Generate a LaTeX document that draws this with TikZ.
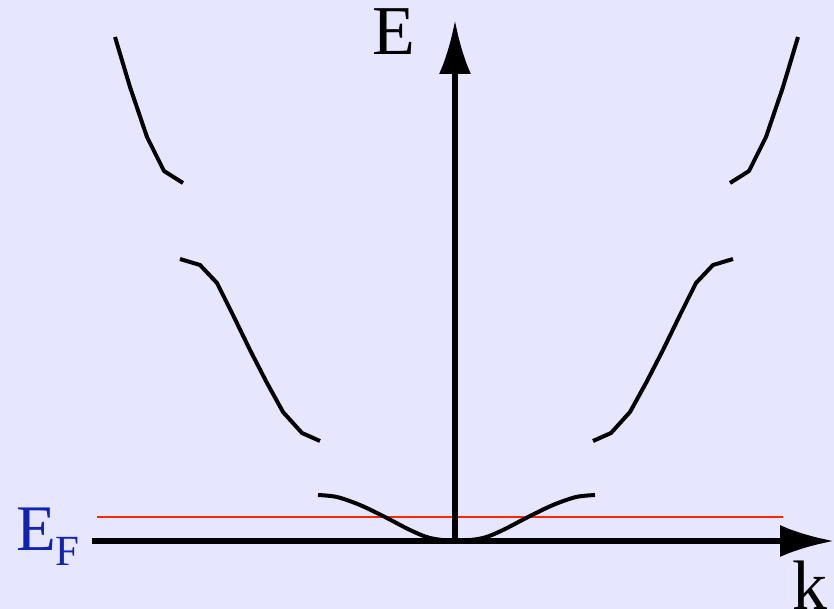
\documentclass[tikz,border=0pt]{standalone}
\usepackage{fontspec}
\setmainfont{Liberation Serif}
\usetikzlibrary{arrows.meta}
\definecolor{bgblue}{RGB}{230,230,255}
\definecolor{fermired}{RGB}{255,40,0}
\definecolor{labelblue}{RGB}{16,36,176}

\begin{document}
\begin{tikzpicture}[
    x=1pt, y=-1pt,
    axis/.style={draw, line width=5.5pt, -{Latex[length=54pt, width=32pt]}},
    band/.style={draw, line width=4pt, line join=round},
    fermi/.style={draw=fermired, line width=2.5pt},
    lbl/.style={inner sep=0pt, anchor=base west, font=\fontsize{70}{70}\selectfont}
]
    % Background
    \fill[bgblue] (0,0) rectangle (834,609);
    \useasboundingbox (0,0) rectangle (834,609);

    % Coordinates
    \coordinate (origin) at (455,541);
    \coordinate (kstart) at (92,541);
    \coordinate (kend) at (834,541);
    \coordinate (eend) at (455,20);
    \coordinate (efleft) at (97,517);
    \coordinate (efright) at (783,517);

    % Fermi level
    \path[fermi] (efleft) -- (efright);

    % Bands
    \path[band] plot coordinates {(115,37) (130,87) (147,137) (164,171) (183,183)};
    \path[band] plot coordinates {(798,37) (783,87) (766,137) (749,171) (730,183)};
    \path[band] plot coordinates {(180,259) (200,265) (217,283) (233,315) (250,350)
        (267,383) (283,412) (302,433) (320,441)};
    \path[band] plot coordinates {(733,259) (713,265) (696,283) (680,315) (663,350)
        (646,383) (630,412) (611,433) (593,441)};
    \path[band] plot[smooth, tension=0.5] coordinates {(318,495) (337,497) (360,505)
        (385,517) (410,530) (430,538) (456,541) (483,538) (503,530) (528,517)
        (553,505) (576,497) (595,495)};

    % Axes
    \path[axis] (kstart) -- (kend);
    \path[axis] (origin) -- (eend);

    % Labels
    \node[lbl] (elabel) at (372,55) {E};
    \node[lbl] (klabel) at (792,609) {k};
    \node[lbl, text=labelblue, font=\fontsize{65}{65}\selectfont] (eflabel) at (16,550)
        {E\raisebox{-15pt}{\fontsize{43}{43}\selectfont F}};
\end{tikzpicture}
\end{document}
